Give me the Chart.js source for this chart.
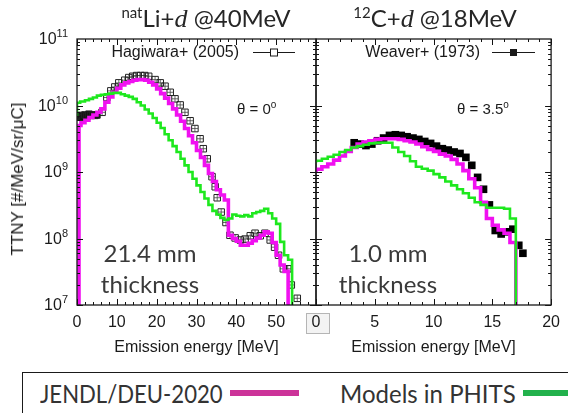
<!DOCTYPE html>
<html>
<head>
<meta charset="utf-8">
<script src="https://cdn.jsdelivr.net/npm/chart.js@4.4.1/dist/chart.umd.min.js"></script>
<style>
  html, body { margin: 0; padding: 0; background: #fff; }
  #wrap { position: relative; width: 568px; height: 413px; overflow: hidden; font-family: 'Liberation Sans', Arial, sans-serif; color: #1a1a1a; }
  #wrap canvas { position: absolute; left: 0; top: 0; }
  .ttl { position: absolute; top: 3px; width: 300px; text-align: center; font-family: Lato, sans-serif; font-size: 24px; line-height: 30px; color: #262626; white-space: nowrap; }
  .ttl sup { font-size: 15px; vertical-align: 9px; line-height: 0; }
  .ttl i { font-family: 'Liberation Serif', 'DejaVu Serif', serif; font-size: 26px; }
  .note { position: absolute; top: 237px; width: 160px; text-align: center; font-family: Lato, sans-serif; font-size: 24px; line-height: 31px; color: #3a3a3a; }
  .theta { position: absolute; top: 100px; font-size: 15px; line-height: 18px; white-space: nowrap; }
  .theta sup { font-size: 10px; vertical-align: 6px; line-height: 0; }
  #ytitle { position: absolute; left: 18px; top: 179px; transform: translate(-50%, -50%) rotate(-90deg); font-size: 17px; white-space: nowrap; }
  #key { position: absolute; left: 22px; top: 372px; width: 620px; height: 60px; border: 1.5px solid #1a1a1a; box-sizing: border-box; background: #fff; font-family: Lato, sans-serif; font-size: 25px; color: #333; }
  #key span { position: absolute; top: 9px; line-height: 22px; white-space: nowrap; transform-origin: 0 50%; }
  #key b { position: absolute; top: 17px; height: 6px; }
</style>
</head>
<body>
<div id="wrap">
  <canvas id="left" width="568" height="360"></canvas>
  <canvas id="right" width="568" height="360"></canvas>

  <div class="ttl" style="left:56px"><sup>nat</sup>Li+<i>d</i> @40MeV</div>
  <div class="ttl" style="left:285px"><sup>12</sup>C+<i>d</i> @18MeV</div>
  <div class="theta" style="left:237px">&theta; = 0<sup>o</sup></div>
  <div class="theta" style="left:457px">&theta; = 3.5<sup>o</sup></div>
  <div class="note" style="left:70px">21.4 mm<br>thickness</div>
  <div class="note" style="left:308px">1.0 mm<br>thickness</div>
  <div id="ytitle">TTNY [#/MeV/sr/&mu;C]</div>

  <div id="key">
    <span style="left:17px; transform:scaleX(0.885)">JENDL/DEU-2020</span>
    <b style="left:207px; width:69px; background:#cc3399"></b>
    <span style="left:317px; transform:scaleX(0.96)">Models in PHITS</span>
    <b style="left:500px; width:120px; background:#22b14c"></b>
  </div>
</div>

<script>
// natLi + d @ 40 MeV, theta = 0 deg  (left panel)
// JENDL/DEU-2020, bin starts [MeV] and yields
const liJendlE = [0.5, 1, 2, 3, 4, 5, 6, 7, 8, 9, 10, 11, 12, 13, 14, 15, 16, 17, 18, 19, 20,
  21, 22, 23, 24, 25, 26, 27, 28, 29, 30, 31, 32, 33, 34, 35, 36, 37, 38, 39, 40,
  41, 42, 43, 44, 45, 46, 47, 48, 49, 50, 51, 52, 53];
const liJendlV = [4.8e9, 5.0e9, 5.5e9, 6.0e9, 6.6e9, 7.2e9, 7.9e9, 8.9e9, 1.12e10, 1.35e10, 1.58e10,
  1.82e10, 2.04e10, 2.19e10, 2.29e10, 2.40e10, 2.45e10, 2.45e10, 2.40e10, 2.24e10, 2.04e10,
  1.78e10, 1.51e10, 1.29e10, 1.07e10, 8.9e9, 7.2e9, 5.8e9, 4.5e9, 3.5e9, 2.75e9,
  2.1e9, 1.66e9, 1.26e9, 9.5e8, 7.2e8, 5.4e8, 4.5e8, 3.8e8, 1.12e8, 1.0e8,
  9.1e7, 7.9e7, 7.9e7, 8.5e7, 9.3e7, 1.02e8, 1.12e8, 1.26e8, 1.2e8, 8.7e7,
  5.6e7, 4.0e7, 3.2e7];
const liJendlEnd = 53.7;

// Models in PHITS
const liPhitsE = [0, 0.8, 2, 3, 4, 5, 6, 7, 8, 9, 10, 11, 12, 13, 14, 15, 16, 17, 18, 19, 20,
  21, 22, 23, 24, 25, 26, 27, 28, 29, 30, 31, 32, 33, 34, 35, 36, 37, 38, 39, 40,
  41, 42, 43, 44, 45, 46, 47, 48, 49, 50, 51, 52, 53, 54];
const liPhitsV = [6.8e9, 1.10e10, 1.15e10, 1.20e10, 1.26e10, 1.32e10, 1.41e10, 1.45e10, 1.48e10, 1.51e10, 1.55e10,
  1.55e10, 1.48e10, 1.41e10, 1.35e10, 1.26e10, 1.12e10, 1.0e10, 8.7e9, 7.6e9, 6.5e9,
  5.5e9, 4.6e9, 3.7e9, 3.0e9, 2.45e9, 2.0e9, 1.58e9, 1.26e9, 1.0e9, 7.9e8,
  6.3e8, 5.0e8, 4.0e8, 3.2e8, 2.6e8, 2.3e8, 2.04e8, 1.9e8, 2.0e8, 2.3e8,
  2.2e8, 2.15e8, 2.25e8, 2.15e8, 2.4e8, 2.5e8, 2.6e8, 2.8e8, 2.4e8, 2.0e8,
  1.66e8, 8.9e7, 5.6e7, 4.8e7];
const liPhitsEnd = 55.2;

// Hagiwara+ (2005)
const liHagE = [0.5, 1, 1.5, 2, 2.5, 3, 3.5, 4, 4.5, 5, 6.3, 7.5, 8.5, 9.5, 10.5, 12, 13, 14, 15, 16,
  17, 18, 19.6, 20.9, 22.1, 23.4, 24.6, 25.9, 27.1, 28.4, 29.6, 30.9, 31.7, 32.7, 33.9, 34.7,
  35.2, 36.2, 37.4, 38.4, 39.7, 41, 42.2, 43.5, 44.7, 46, 47.2, 48.5, 49.6, 50.6, 51.8, 52.9,
  53.8, 55.3];
const liHagV = [6.8e9, 7.1e9, 6.6e9, 7.2e9, 6.9e9, 7.4e9, 7.1e9, 7.2e9, 7.1e9, 7.2e9, 7.9e9, 1.32e10,
  1.66e10, 1.9e10, 2.19e10, 2.4e10, 2.63e10, 2.75e10, 2.82e10, 2.82e10, 2.82e10, 2.75e10,
  2.45e10, 2.19e10, 1.95e10, 1.58e10, 1.26e10, 1.02e10, 7.9e9, 5.9e9, 4.5e9, 3.16e9,
  2.24e9, 1.58e9, 8.5e8, 6.0e8, 4.1e8, 2.5e8, 1.74e8, 1.12e8, 1.02e8, 9.5e7, 9.8e7,
  1.1e8, 1.2e8, 1.1e8, 1.2e8, 9.5e7, 7.4e7, 5.6e7, 3.5e7, 3.5e7, 2.0e7, 1.26e7];

// 12C + d @ 18 MeV, theta = 3.5 deg  (right panel)
const cEdges = [0, 0.5, 1, 1.5, 2, 2.5, 3, 3.5, 4, 4.5, 5, 5.5, 6, 6.5, 7, 7.5, 8, 8.5, 9, 9.5,
  10, 10.5, 11, 11.5, 12, 12.5, 13, 13.5, 14, 14.5, 15, 15.5, 16, 16.5, 17];
const cJendlV = [1.0e9, 1.10e9, 1.20e9, 1.32e9, 1.51e9, 1.74e9, 2.04e9, 2.34e9, 2.63e9, 2.82e9,
  2.95e9, 3.09e9, 3.16e9, 3.16e9, 3.16e9, 3.09e9, 2.95e9, 2.82e9, 2.63e9, 2.40e9,
  2.19e9, 2.04e9, 1.86e9, 1.74e9, 1.55e9, 1.32e9, 1.05e9, 7.9e8, 5.8e8, 3.5e8,
  2.0e8, 1.58e8, 1.35e8, 1.2e8, 8.7e7];
const cJendlEnd = 17.4;
const cPhitsV = [1.38e9, 1.48e9, 1.58e9, 1.70e9, 1.82e9, 2.0e9, 2.14e9, 2.34e9, 2.45e9, 2.57e9,
  2.69e9, 2.75e9, 2.75e9, 2.75e9, 2.34e9, 2.0e9, 1.74e9, 1.45e9, 1.20e9, 1.12e9,
  1.05e9, 9.3e8, 8.3e8, 7.2e8, 6.3e8, 5.5e8, 4.8e8, 4.1e8, 3.5e8, 3.2e8,
  2.9e8, 2.9e8, 2.9e8, 2.8e8, 2.0e8];
const cPhitsEnd = 17.5;

// Weaver+ (1973)
const cWeaverE = [3.25, 3.75, 4.25, 4.75, 5.25, 5.75, 6.25, 6.75, 7.25, 7.75, 8.25, 8.75, 9.25, 9.75,
  10.25, 10.75, 11.25, 11.75, 12.25, 12.75, 13.25, 13.75, 14.25, 14.75, 15.25, 15.75, 16.25,
  16.75, 17.25, 17.6];
const cWeaverV = [2.75e9, 2.63e9, 2.5e9, 2.63e9, 2.95e9, 3.24e9, 3.55e9, 3.63e9, 3.55e9, 3.39e9,
  3.24e9, 3.09e9, 2.88e9, 2.69e9, 2.45e9, 2.24e9, 2.14e9, 2.0e9, 1.9e9, 1.66e9,
  1.26e9, 8.3e8, 5.5e8, 3.2e8, 1.32e8, 1.17e8, 1.26e8, 1.38e8, 7.9e7, 6.0e7];

const yTicks = [1e7, 1e8, 1e9, 1e10, 1e11];

const FLOOR = 1e6;   // below the axis, so the step falls off the bottom
const MAGENTA = '#f010f0';
const GREEN = '#1ee81e';
const FONT = 'Liberation Sans';

// bin starts + values -> points for a stepped line
function histo(edges, vals, end, fromFloor) {
  const pts = fromFloor ? [{ x: edges[0], y: FLOOR }] : [];
  edges.forEach((e, i) => pts.push({ x: e, y: vals[i] }));
  pts.push({ x: end, y: FLOOR });
  return pts;
}
function pts(xs, ys) {
  return xs.map((x, i) => ({ x: x, y: ys[i] }));
}

// frame, inward ticks, y labels and the small legend inside each panel
const frame = {
  id: 'frame',
  beforeDraw(chart, args, o) {
    if (!o.zeroBox) return;
    const ctx = chart.ctx;
    const px = chart.scales.x.getPixelForValue(0);
    const b = chart.chartArea.bottom;
    ctx.save();
    ctx.fillStyle = '#f3f3f3';
    ctx.strokeStyle = '#b5b5b5';
    ctx.lineWidth = 1;
    ctx.fillRect(px - 9.5, b + 8.5, 23, 20);
    ctx.strokeRect(px - 9.5, b + 8.5, 23, 20);
    ctx.restore();
  },
  afterDatasetsDraw(chart, args, o) {
    const { ctx, chartArea: a } = chart;
    const x = chart.scales.x, y = chart.scales.y;
    ctx.save();
    ctx.strokeStyle = '#111';
    ctx.lineWidth = 1;
    ctx.beginPath();
    for (let v = x.min; v <= x.max + 1e-9; v += o.xMinor) {
      const p = Math.round(x.getPixelForValue(v)) + 0.5;
      const len = Math.abs(v / o.xMajor - Math.round(v / o.xMajor)) < 1e-6 ? 6 : 3;
      ctx.moveTo(p, a.bottom); ctx.lineTo(p, a.bottom - len);
      ctx.moveTo(p, a.top); ctx.lineTo(p, a.top + len);
    }
    for (let k = 0; k < yTicks.length - 1; k++) {
      for (let m = 1; m <= 9; m++) {
        const p = Math.round(y.getPixelForValue(yTicks[k] * m)) + 0.5;
        const len = m === 1 ? 6 : 3;
        ctx.moveTo(a.left, p); ctx.lineTo(a.left + len, p);
        ctx.moveTo(a.right, p); ctx.lineTo(a.right - len, p);
      }
    }
    ctx.stroke();
    ctx.lineWidth = 1.3;
    ctx.strokeStyle = '#1a1a1a';
    ctx.strokeRect(a.left, a.top, a.right - a.left, a.bottom - a.top);

    ctx.fillStyle = '#1a1a1a';
    if (o.yLabels) {
      yTicks.forEach(t => {
        const p = y.getPixelForValue(t);
        const ex = String(Math.round(Math.log10(t)));
        ctx.font = '11px "' + FONT + '"';
        const ew = ctx.measureText(ex).width;
        ctx.textBaseline = 'alphabetic';
        ctx.textAlign = 'left';
        ctx.fillText(ex, 68 - ew, p - 2);
        ctx.font = '16px "' + FONT + '"';
        ctx.textBaseline = 'middle';
        ctx.textAlign = 'right';
        ctx.fillText('10', 68 - ew, p + 1);
      });
    }
    if (o.key) {
      const k = o.key;
      ctx.font = '16px "' + FONT + '"';
      ctx.textAlign = 'right';
      ctx.textBaseline = 'alphabetic';
      ctx.fillText(k.text, k.right, 57);
      ctx.lineWidth = 1;
      ctx.beginPath();
      ctx.moveTo(k.x0, 52.5); ctx.lineTo(k.x1, 52.5);
      ctx.stroke();
      const c = (k.x0 + k.x1) / 2;
      if (k.filled) {
        ctx.fillRect(c - 3.5, 49, 7, 7);
      } else {
        ctx.fillStyle = '#fff';
        ctx.fillRect(c - 3.5, 49, 7, 7);
        ctx.strokeRect(c - 3.5, 49, 7, 7);
      }
    }
    ctx.restore();
  }
};

function xAxis(max, step, hideLast) {
  return {
    type: 'linear', min: 0, max: max,
    grid: { display: false, drawTicks: false },
    border: { display: false },
    ticks: {
      stepSize: step, autoSkip: false, maxRotation: 0, padding: 8,
      color: '#1a1a1a', font: { family: FONT, size: 16 },
      callback: v => (hideLast && v === max) ? '' : v
    },
    title: { display: true, text: 'Emission energy [MeV]', color: '#1a1a1a', font: { family: FONT, size: 16 }, padding: { top: 2, bottom: 3 } },
    afterFit: s => { s.height = 55; }
  };
}
const yAxis = { type: 'logarithmic', min: 1e7, max: 1e11, display: false };

function lineSet(data, color, width, order) {
  return { data: data, borderColor: color, borderWidth: width, stepped: 'after', pointRadius: 0, fill: false, order: order };
}

new Chart(document.getElementById('left'), {
  type: 'line',
  data: {
    datasets: [
      lineSet(histo(liPhitsE, liPhitsV, liPhitsEnd, false), GREEN, 2.6, 0),
      lineSet(histo(liJendlE, liJendlV, liJendlEnd, true), MAGENTA, 3.6, 1),
      { data: pts(liHagE, liHagV), showLine: false, pointStyle: 'rect', pointRadius: 4.6,
        pointBorderWidth: 1, pointBorderColor: '#222',
        pointBackgroundColor: c => (c.raw && c.raw.x < 5.5) ? '#111' : 'rgba(255,255,255,0)', order: 2 },
      { data: pts(liHagE, liHagV), showLine: false, pointStyle: 'cross', pointRadius: 3,
        pointBorderWidth: 0.8, pointBorderColor: '#444', order: 3 }
    ]
  },
  options: {
    responsive: false, animation: false,
    layout: { padding: { left: 77, top: 39, right: 252, bottom: 0 } },
    scales: { x: xAxis(60, 10, true), y: yAxis },
    plugins: {
      legend: { display: false }, tooltip: { enabled: false },
      frame: { xMajor: 10, xMinor: 2, yLabels: true,
        key: { text: 'Hagiwara+ (2005)', right: 239, x0: 253, x1: 295, filled: false } }
    }
  },
  plugins: [frame]
});

new Chart(document.getElementById('right'), {
  type: 'line',
  data: {
    datasets: [
      lineSet(histo(cEdges, cPhitsV, cPhitsEnd, false), GREEN, 2.6, 0),
      lineSet(histo(cEdges, cJendlV, cJendlEnd, false), MAGENTA, 3.6, 1),
      { data: pts(cWeaverE, cWeaverV), showLine: false, pointStyle: 'rect', pointRadius: 5.4,
        pointBorderWidth: 0, pointBackgroundColor: '#000', order: 2 }
    ]
  },
  options: {
    responsive: false, animation: false,
    layout: { padding: { left: 316, top: 39, right: 13, bottom: 0 } },
    scales: { x: xAxis(20, 5, false), y: yAxis },
    plugins: {
      legend: { display: false }, tooltip: { enabled: false },
      frame: { xMajor: 5, xMinor: 1, zeroBox: true,
        key: { text: 'Weaver+ (1973)', right: 480, x0: 492, x1: 535, filled: true } }
    }
  },
  plugins: [frame]
});
</script>
</body>
</html>
